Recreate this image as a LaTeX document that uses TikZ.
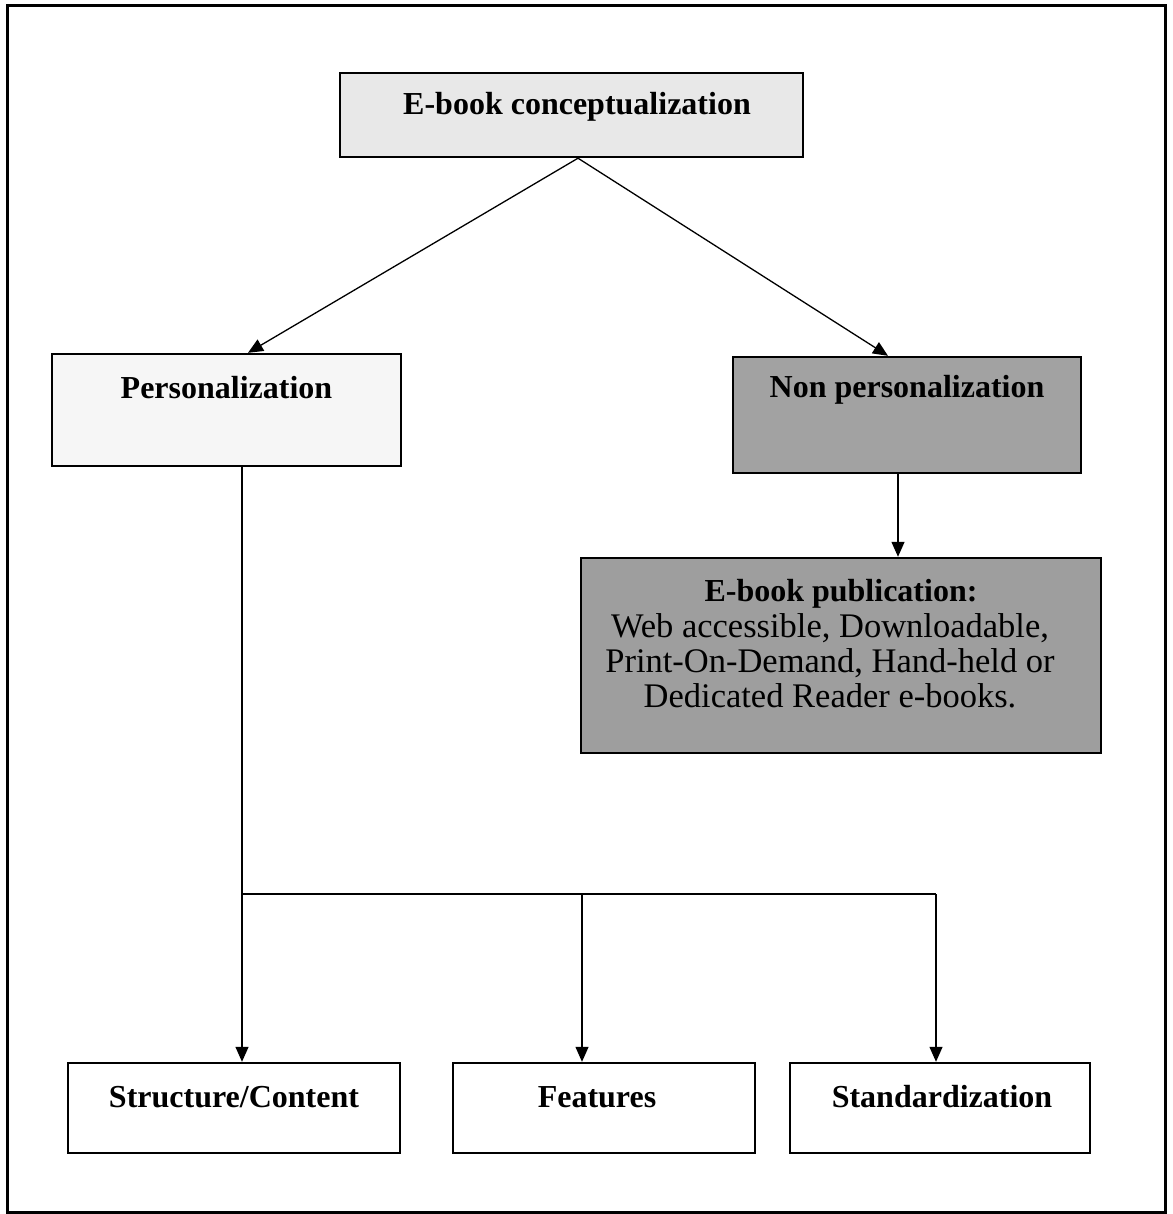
\documentclass[tikz,border=0pt]{standalone}
\usepackage{fontspec}
\setmainfont{Liberation Serif}
\usetikzlibrary{arrows.meta}
\definecolor{lightfill}{HTML}{E8E8E8}
\definecolor{paler}{HTML}{F6F6F6}
\definecolor{darkfill}{HTML}{A2A2A2}
\definecolor{darkfillb}{HTML}{9E9E9E}
\tikzset{
  boxshape/.style={draw=black, line width=2.4pt, inner sep=0pt},
  boldlbl/.style={font=\fontsize{32}{36}\selectfont\bfseries, inner sep=0pt, align=center},
  bodylbl/.style={font=\fontsize{34.5}{35}\selectfont, inner sep=0pt, align=center},
  conn/.style={line width=1.3pt, draw=black},
  arr/.style={conn, -{Triangle[length=15pt,width=13pt]}},
}
\begin{document}
\begin{tikzpicture}[x=1pt,y=-1pt]
\useasboundingbox (0,0) rectangle (1172,1214);
\draw[line width=3pt] (7,6) rectangle (1165,1212);
% boxes
\node[boxshape, fill=lightfill, minimum width=463pt, minimum height=84pt] (top) at (571.5,115) {};
\node[boxshape, fill=paler, minimum width=349pt, minimum height=112pt] (pers) at (226.5,410) {};
\node[boxshape, fill=darkfill, minimum width=348pt, minimum height=116pt] (nonp) at (907,415) {};
\node[boxshape, fill=darkfillb, minimum width=520pt, minimum height=195pt] (pub) at (841,655.5) {};
\node[boxshape, fill=white, minimum width=332pt, minimum height=90pt] (struct) at (234,1108) {};
\node[boxshape, fill=white, minimum width=302pt, minimum height=90pt] (feat) at (604,1108) {};
\node[boxshape, fill=white, minimum width=300pt, minimum height=90pt] (std) at (940,1108) {};
% labels
\node[boldlbl] (ttop) at (577,107) {E-book conceptualization};
\node[boldlbl] (tpers) at (226.5,388) {Personalization};
\node[boldlbl] (tnonp) at (907,390) {Non personalization};
\node[boldlbl] (tpub) at (841,594) {E-book publication:};
\node[bodylbl, anchor=north] (tpubbody) at (830,613) {Web accessible, Downloadable,\\Print-On-Demand, Hand-held or\\Dedicated Reader e-books.};
\node[boldlbl] (tstruct) at (234,1097) {Structure/Content};
\node[boldlbl] (tfeat) at (597,1097) {Features};
\node[boldlbl] (tstd) at (942,1097) {Standardization};
% connectors
\coordinate (apex) at (578,157);
\coordinate (jl) at (242,894);
\coordinate (jm) at (582,894);
\coordinate (jr) at (936,894);
\draw[arr] (top.south -| apex) -- (pers.north -| 248,0);
\draw[arr] (top.south -| apex) -- (nonp.north -| 888,0);
\draw[arr] (nonp.south -| 898,0) -- (pub.north -| 898,0);
\draw[arr] (pers.south -| jl) -- (struct.north -| jl);
\draw[conn] (jl) -- (jr);
\draw[arr] (jm) -- (feat.north -| jm);
\draw[arr] (jr) -- (std.north -| jr);
\end{tikzpicture}
\end{document}
